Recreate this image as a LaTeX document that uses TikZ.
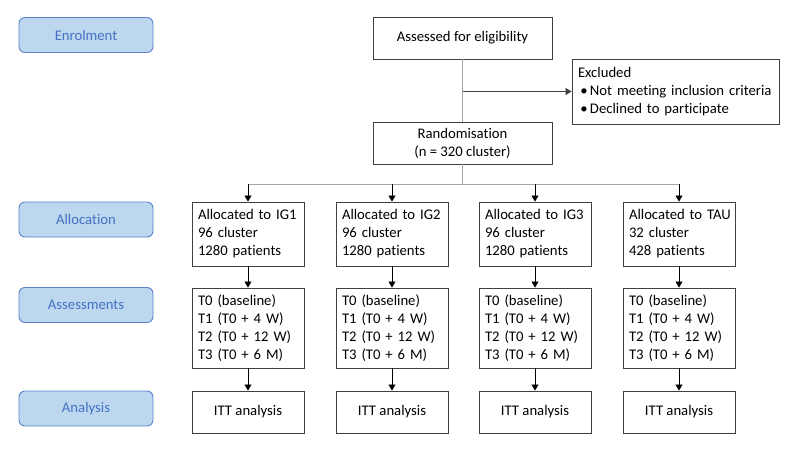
\documentclass[tikz,border=0pt]{standalone}
\usepackage{fontspec}
\setmainfont{Carlito}[Ligatures={NoCommon,NoContextual}]
\usetikzlibrary{arrows.meta,calc}
\definecolor{phasefill}{HTML}{BDD7EE}
\definecolor{phasedraw}{HTML}{5B82C8}
\definecolor{phasetext}{HTML}{4472C4}
\definecolor{boxdraw}{HTML}{404040}
\definecolor{spinecol}{HTML}{A6A6A6}
\tikzset{
  phase/.style={draw=phasedraw, fill=phasefill, rounded corners=6pt, line width=0.9pt,
    minimum width=134pt, minimum height=35pt, text=phasetext, inner sep=0pt},
  flowbox/.style={draw=boxdraw, line width=0.9pt, fill=white, inner sep=0pt},
  colbox/.style={flowbox, minimum width=112pt, text width=100pt, align=left},
  spine/.style={draw=spinecol, line width=0.9pt},
  arr/.style={draw=black, line width=0.8pt, -{Triangle[length=6pt,width=7pt]}},
}
\begin{document}
\begin{tikzpicture}[x=1pt,y=-1pt, font=\fontsize{14.7pt}{18pt}\selectfont]
\useasboundingbox (0,0) rectangle (800,450);
% phase labels
\node[phase] (penrol) at (86,35) {Enrolment};
\node[phase] (palloc) at (86,219.5) {Allocation};
\node[phase] (passess) at (86,305) {Assessments};
\node[phase] (panaly) at (86,408.5) {Analysis};
% top boxes
\node[flowbox, minimum width=179pt, minimum height=42pt] (assess) at (462.5,38) {Assessed for eligibility};
\node[flowbox, minimum width=179pt, minimum height=42pt, align=center] (rand) at (462.5,143) {Randomisation\\(n = 320 cluster)};
\node[flowbox, minimum width=207pt, minimum height=65pt, text width=195pt, align=left] (excl) at (675.5,91.5)
  {Excluded\\\makebox[12pt][l]{\,•}Not meeting inclusion criteria\\\makebox[12pt][l]{\,•}Declined to participate};
% columns
\node[colbox, minimum height=64pt] (a1) at (248,234) {Allocated~to~IG1\\96 cluster\\1280 patients};
\node[colbox, minimum height=64pt] (a2) at (392,234) {Allocated~to~IG2\\96 cluster\\1280 patients};
\node[colbox, minimum height=64pt] (a3) at (535,234) {Allocated~to~IG3\\96 cluster\\1280 patients};
\node[colbox, minimum height=64pt] (a4) at (679,234) {Allocated~to~TAU\\32 cluster\\428 patients};
\node[colbox, minimum height=80pt] (t1) at (248,328) {T0 (baseline)\\T1 (T0 + 4 W)\\T2 (T0 + 12 W)\\T3 (T0 + 6 M)};
\node[colbox, minimum height=80pt] (t2) at (392,328) {T0 (baseline)\\T1 (T0 + 4 W)\\T2 (T0 + 12 W)\\T3 (T0 + 6 M)};
\node[colbox, minimum height=80pt] (t3) at (535,328) {T0 (baseline)\\T1 (T0 + 4 W)\\T2 (T0 + 12 W)\\T3 (T0 + 6 M)};
\node[colbox, minimum height=80pt] (t4) at (679,328) {T0 (baseline)\\T1 (T0 + 4 W)\\T2 (T0 + 12 W)\\T3 (T0 + 6 M)};
\node[flowbox, minimum width=112pt, minimum height=42pt] (r1) at (248,412) {ITT analysis};
\node[flowbox, minimum width=112pt, minimum height=42pt] (r2) at (392,412) {ITT analysis};
\node[flowbox, minimum width=112pt, minimum height=42pt] (r3) at (535,412) {ITT analysis};
\node[flowbox, minimum width=112pt, minimum height=42pt] (r4) at (679,412) {ITT analysis};
% connectors
\draw[spine] (assess.south) -- (rand.north);
\coordinate (jx) at (assess.south |- excl.west);
\draw[arr, draw=boxdraw] (jx) -- (excl.west);
\coordinate (br) at ($(rand.south)+(0,20)$);
\draw[spine] (rand.south) -- (br);
\draw[spine] (a1.north |- br) -- (a4.north |- br);
\foreach \c in {a1,a2,a3,a4}{\draw[arr] (\c.north |- br) -- (\c.north);}
\foreach \u/\v in {a1/t1,a2/t2,a3/t3,a4/t4,t1/r1,t2/r2,t3/r3,t4/r4}{\draw[arr] (\u.south) -- (\v.north);}
\end{tikzpicture}
\end{document}
